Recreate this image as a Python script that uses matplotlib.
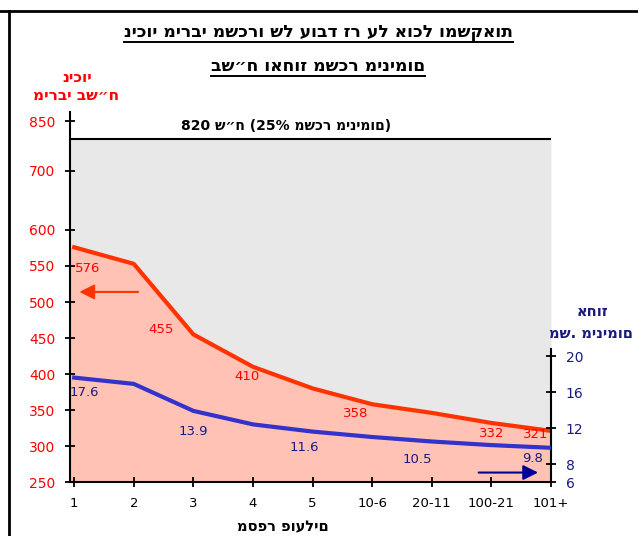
import numpy as np
import matplotlib
matplotlib.use("Agg")
import matplotlib.pyplot as plt
from matplotlib.lines import Line2D
from matplotlib.scale import FuncScale

plt.rcParams['font.family'] = ['DejaVu Sans']

# data
categories = ["1", "2", "3", "4", "5", "10-6", "20-11", "100-21", "101+"]
deduction_nis = [576, 553, 455, 410, 380, 358, 346, 332, 321]
deduction_labels = ["576", None, "455", "410", None, "358", None, "332", "321"]
pct_min_wage = [17.6, 16.9, 13.9, 12.4, 11.6, 11.0, 10.5, 10.1, 9.8]
pct_labels = ["17.6", None, "13.9", None, "11.6", None, "10.5", None, "9.8"]
cap_value = 820
left_ticks = [250, 300, 350, 400, 450, 500, 550, 600, 700, 850]
right_ticks = [6, 8, 12, 16, 20]

# label offsets in pixels (dx, dy)
red_off = [(13, -21), None, (-32, 5), (-6, -10), None, (-17, -9), None, (0, -11), (-15, -4)]
blue_off = [(10, -15), None, (0, -21), None, (-8, -16), None, (-14, -18), None, (-18, -11)]

RED = "#ff3300"
LABEL_RED = "#ff0000"
BLUE = "#3333cc"
NAVY = "#1a1a80"
SALMON = "#ffc2b4"
GRAY = "#e8e8e8"

# the left axis is not linear above 600
sv = [250, 600, 700, 820, 850, 900]
sp = [0, 252, 311, 342.5, 360.5, 377]
fwd = lambda v: np.interp(v, sv, sp)
inv = lambda p: np.interp(p, sp, sv)

fig = plt.figure(figsize=(6.38, 5.36), dpi=100)
ax = fig.add_axes([70 / 638, 54 / 536, 481 / 638, 370 / 536])
ax.set_yscale(FuncScale(ax.yaxis, (fwd, inv)))
ax.set_ylim(250, inv(370))
x = np.arange(len(categories))
ax.set_xlim(-0.07, 8.0)

xf = np.r_[ax.get_xlim()[0], x]
yf = np.r_[deduction_nis[0], deduction_nis]
ax.fill_between(xf, 250, yf, color=SALMON, lw=0, zorder=1)
ax.fill_between(xf, yf, cap_value, color=GRAY, lw=0, zorder=1)
ax.plot([xf[0], x[-1]], [cap_value, cap_value], color="black", lw=1.5, zorder=3)
ax.plot(x, deduction_nis, color=RED, lw=3, zorder=4, solid_joinstyle="round")

for i, lab in enumerate(deduction_labels):
    if lab:
        ax.annotate(lab, (x[i], deduction_nis[i]), xytext=red_off[i], textcoords="offset pixels",
                    ha="center", va="center", color=LABEL_RED, fontsize=9.5, zorder=6)

ax.set_yticks(left_ticks)
ax.set_yticklabels([str(t) for t in left_ticks], color=LABEL_RED, fontsize=10)
ax.set_xticks(x)
ax.set_xticklabels(categories, fontsize=9.5)
ax.tick_params(axis="both", direction="inout", length=7, width=1.3)
ax.tick_params(axis="y", pad=7)
ax.tick_params(axis="x", pad=7)
for s in ["top", "right"]:
    ax.spines[s].set_visible(False)
ax.spines["left"].set_linewidth(1.5)
ax.spines["bottom"].set_linewidth(1.5)
ax.set_facecolor("none")

ax.annotate("", xy=(0.04, 514), xytext=(1.12, 514),
            arrowprops=dict(arrowstyle="-|>,head_length=0.9,head_width=0.45", color=RED, lw=1.5), zorder=5)

# right axis
ax2 = ax.twinx()
ax2.set_ylim(6, 6 + 370 / 9)
ax2.plot(x, pct_min_wage, color=BLUE, lw=3, zorder=4, solid_joinstyle="round")
for i, lab in enumerate(pct_labels):
    if lab:
        ax2.annotate(lab, (x[i], pct_min_wage[i]), xytext=blue_off[i], textcoords="offset pixels",
                     ha="center", va="center", color=NAVY, fontsize=9.5, zorder=6)
ax2.set_yticks(right_ticks)
ax2.set_yticklabels([str(t) for t in right_ticks], color=NAVY, fontsize=10)
ax2.tick_params(axis="y", direction="inout", length=7, width=1.3, pad=7)
ax2.spines["right"].set_bounds(6, 20.8)
ax2.spines["right"].set_linewidth(1.5)
for s in ["top", "left", "bottom"]:
    ax2.spines[s].set_visible(False)
ax2.annotate("", xy=(7.83, 7.05), xytext=(6.74, 7.05),
             arrowprops=dict(arrowstyle="-|>,head_length=0.9,head_width=0.45", color="#000099", lw=1.5))

# texts
fig.text(286 / 638, 1 - 126 / 536, "820 ש״ח (25% משכר מינימום)", ha="center", va="center",
         fontsize=10, fontweight="bold")
fig.text(77 / 638, 1 - 77 / 536, "ניכוי", ha="center", va="center", color=LABEL_RED,
         fontsize=11, fontweight="bold")
fig.text(76 / 638, 1 - 96 / 536, "מירבי בש״ח", ha="center", va="center", color=LABEL_RED,
         fontsize=11, fontweight="bold")
fig.text(593 / 638, 1 - 312 / 536, "אחוז", ha="center", va="center", color=NAVY,
         fontsize=10.5, fontweight="bold")
fig.text(591 / 638, 1 - 333 / 536, "מש. מינימום", ha="center", va="center", color=NAVY,
         fontsize=10.5, fontweight="bold")
fig.text(283 / 638, 1 - 527 / 536, "מספר פועלים", ha="center", va="center",
         fontsize=10.5, fontweight="bold")

t1 = fig.text(318 / 638, 1 - 32 / 536, "ניכוי מירבי משכרו של עובד זר על אוכל ומשקאות",
              ha="center", va="center", fontsize=12.3, fontweight="bold")
t2 = fig.text(318 / 638, 1 - 66 / 536, "בש״ח ואחוז משכר מינימום",
              ha="center", va="center", fontsize=12.3, fontweight="bold")

# frame lines
fig.add_artist(Line2D([0, 1], [1 - 11 / 536] * 2, color="black", lw=2))
fig.add_artist(Line2D([9 / 638] * 2, [0, 1 - 11 / 536], color="black", lw=2))

# underline the title
fig.canvas.draw()
r = fig.canvas.get_renderer()
for t in (t1, t2):
    bb = t.get_window_extent(r)
    y = (bb.y0 - 1) / fig.bbox.height
    fig.add_artist(Line2D([bb.x0 / fig.bbox.width, bb.x1 / fig.bbox.width], [y, y], color="black", lw=1.4))

fig.savefig("out.png", dpi=100)
